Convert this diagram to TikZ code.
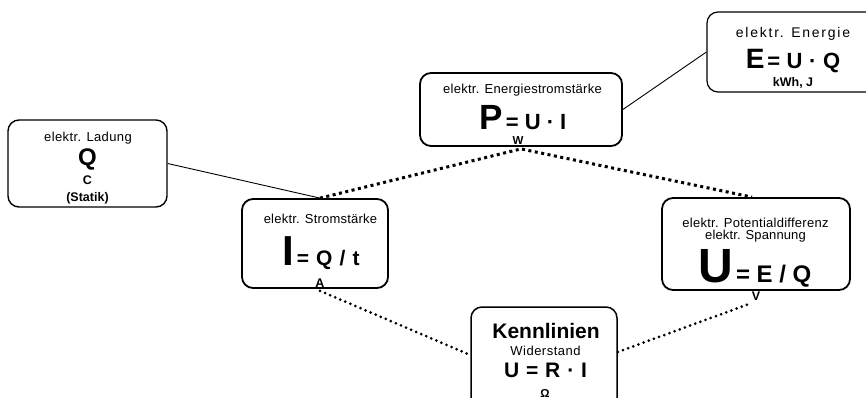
\documentclass[tikz,border=0pt]{standalone}
\usepackage{fontspec}
\setmainfont{Liberation Sans}
\newcommand\fsz[1]{\fontsize{#1}{#1}\selectfont}
\newcommand\lsp[1]{\addfontfeatures{LetterSpace=#1}}
\begin{document}
\begin{tikzpicture}[x=1pt,y=-1pt,
  box/.style={draw, line width=1.8pt, rounded corners=11pt, inner sep=0pt},
  txt/.style={inner sep=0pt, anchor=base},
  thinline/.style={line width=0.9pt},
  sqdots/.style={line width=3pt, dash pattern=on 3pt off 3.5pt},
  rddots/.style={line width=3pt, line cap=round, dash pattern=on 0pt off 5.5pt}]
\useasboundingbox (0,0) rectangle (866,398);
\clip (0,0) rectangle (866,398);

% boxes
\node[box, line width=1.4pt, minimum width=159pt, minimum height=87pt] (lad) at (87.5,163.5) {};
\node[box, minimum width=146pt, minimum height=89pt] (str) at (315,243.5) {};
\node[box, minimum width=202pt, minimum height=73pt] (pst) at (521,109.5) {};
\node[box, line width=1.2pt, minimum width=170pt, minimum height=80pt] (ene) at (792,52) {};
\node[box, minimum width=188pt, minimum height=92pt] (spa) at (756,244) {};
\node[box, line width=1.5pt, minimum width=146pt, minimum height=103pt] (ken) at (544,358.5) {};

% texts: Ladung
\node[txt] (ladA) at (88,142) {\fsz{13}\lsp{3}elektr. Ladung};
\node[txt] (ladB) at (87.5,165) {\fsz{24}\bfseries Q};
\node[txt] (ladC) at (87.5,184) {\fsz{12.5}\bfseries C};
\node[txt] (ladD) at (87.5,201) {\fsz{12.5}\bfseries (Statik)};

% Stromstaerke
\node[txt] (strA) at (320.5,223) {\fsz{13}\lsp{1.7}elektr. Stromstärke};
\node[txt] (strB) at (321,265) {\bfseries{\fsz{42}I} {\fsz{21}\lsp{6}= Q / t}};
\node[txt] (strC) at (320,287) {\fsz{12.5}\bfseries A};

% Energiestromstaerke
\node[txt] (pstA) at (522.5,94) {\fsz{13}\lsp{2}elektr. Energiestromstärke};
\node[txt] (pstB) at (523,130) {\bfseries{\fsz{35}P} {\fsz{22}= U · I}};
\node[txt] (pstC) at (518,144.5) {\fsz{11.5}\bfseries W};

% Energie
\node[txt] (eneA) at (793,37.5) {\fsz{14}\lsp{12.5}elektr. Energie};
\node[txt] (eneB) at (793,69) {\bfseries{\fsz{28}E} {\fsz{22}\lsp{2}= U · Q}};
\node[txt] (eneC) at (793,87) {\fsz{12.5}\bfseries kWh, J};

% Spannung
\node[txt] (spaA) at (755.5,227) {\fsz{13}\lsp{2}elektr. Potentialdifferenz};
\node[txt] (spaB) at (755.5,239.5) {\fsz{13}\lsp{1}elektr. Spannung};
\node[txt] (spaC) at (755,282) {\bfseries{\fsz{48}U} {\fsz{24}= E / Q}};
\node[txt] (spaD) at (756,300) {\fsz{12.5}\bfseries V};

% Kennlinien
\node[txt] (kenA) at (546,338) {\fsz{21}\bfseries Kennlinien};
\node[txt] (kenB) at (545.5,355) {\fsz{13}\lsp{3.7}Widerstand};
\node[txt] (kenC) at (545.5,377) {\fsz{21}\bfseries\lsp{5}U = R · I};
\node[txt] (kenD) at (545,397) {\fsz{11.5}\bfseries Ω};

% connectors
\draw[thinline] (lad.east) -- ([xshift=5pt]str.north);
\draw[thinline] (ene.west) -- (pst.east);
\draw[sqdots] ([xshift=5pt]str.north) -- ([yshift=-2pt]pst.south) -- ([xshift=-4pt]spa.north);
\draw[rddots] ([xshift=5pt,yshift=-2pt]str.south) -- ([yshift=3.5pt]ken.west);
\draw[rddots] ([yshift=6.5pt]ken.east) -- ([xshift=-4pt,yshift=-12pt]spa.south);
\end{tikzpicture}
\end{document}
